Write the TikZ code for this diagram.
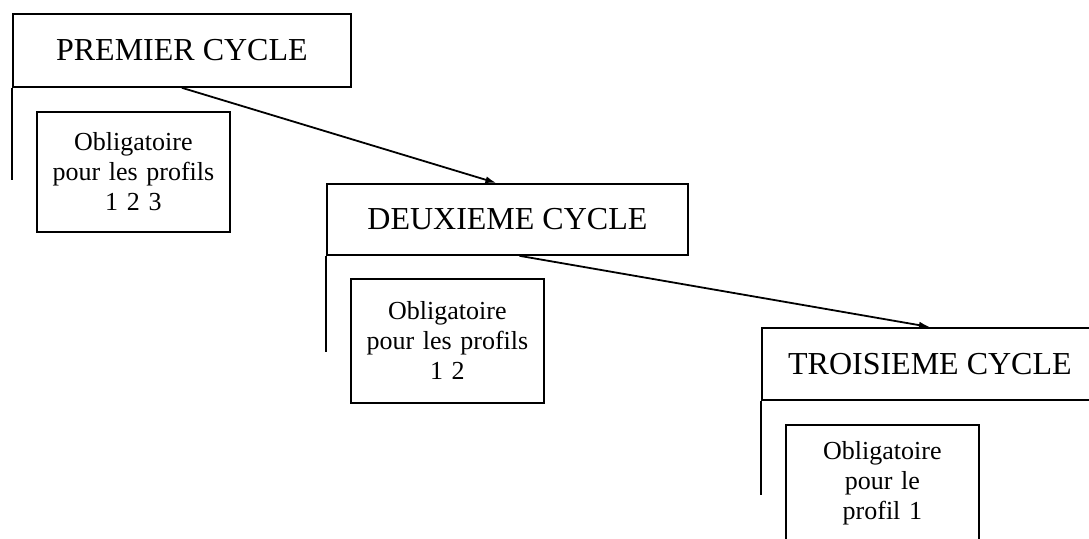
\documentclass[tikz,border=0pt]{standalone}
\usepackage{fontspec}
\setmainfont{Liberation Serif}
\usetikzlibrary{arrows.meta,positioning}
\tikzset{
	cycle/.style={draw,rectangle,anchor=north west,inner sep=0pt,font=\fontsize{32}{38}\selectfont},
	oblig/.style={draw,rectangle,anchor=north west,align=center,text width=170pt,inner xsep=11.5pt,font=\fontsize{26}{30}\selectfont},
	fleche/.style={-{Latex[length=11pt,width=7pt]}}
}
\begin{document}
\begin{tikzpicture}[x=1pt,y=-1pt,line width=1.8pt]
		%%Location
		\clip (0,0) rectangle (1089,538);
		%%Cycles
		\node[cycle,minimum width=338pt,minimum height=73pt] (premier) at (12,13) {PREMIER CYCLE};
		\node[cycle,minimum width=361pt,minimum height=71pt] (deuxieme) at (326,183) {DEUXIEME CYCLE};
		\node[cycle,minimum width=336pt,minimum height=72pt] (troisieme) at (761,327) {TROISIEME CYCLE};
		%%Profils
		\node[oblig,minimum height=120pt] (profil1) at (36,111) {Obligatoire\\pour les profils\\1 2 3};
		\node[oblig,minimum height=124pt] (profil2) at (350,278) {Obligatoire\\pour les profils\\1 2};
		\node[oblig,minimum height=116pt] (profil3) at (785,424) {Obligatoire\\pour le\\profil 1};
		%%Traits
		\coordinate (bas1) at (12,180);
		\coordinate (bas2) at (326,352);
		\coordinate (bas3) at (761,495);
		\draw (premier.south west) -- (bas1);
		\draw (deuxieme.south west) -- (bas2);
		\draw (troisieme.south west) -- (bas3);
		%%Fleches
		\draw[fleche] (premier.south) -- ([xshift=-11pt]deuxieme.north);
		\draw[fleche] ([xshift=12pt]deuxieme.south) -- (troisieme.north);
\end{tikzpicture}
\end{document}
